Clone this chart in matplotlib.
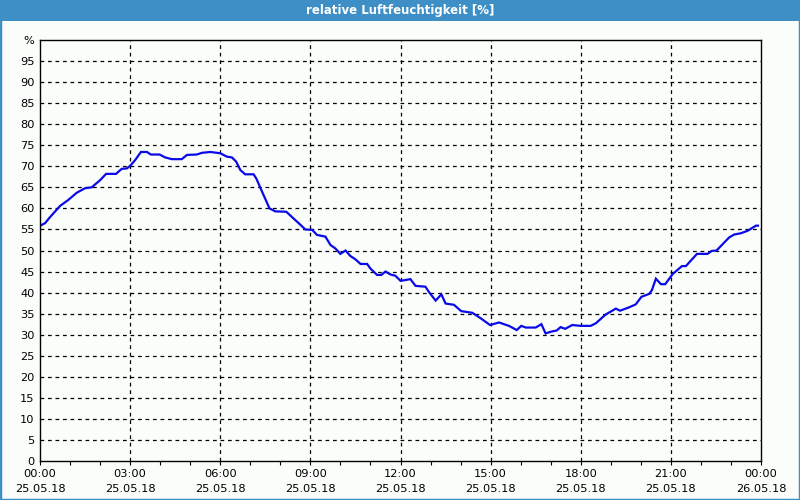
import matplotlib
matplotlib.use("Agg")
import matplotlib.pyplot as plt
from matplotlib.patches import Rectangle

title = "relative Luftfeuchtigkeit [%]"
hours = [0.0, 0.06, 0.17, 0.33, 0.67, 0.94, 1.22, 1.5, 1.72, 2.0, 2.2, 2.53, 2.72, 2.89, 3.0,
         3.17, 3.36, 3.56, 3.69, 3.98, 4.17, 4.39, 4.72, 4.89, 5.22, 5.39, 5.67, 6.0, 6.22,
         6.39, 6.53, 6.67, 6.83, 7.11, 7.2, 7.44, 7.64, 7.83, 8.2, 8.44, 8.67, 8.83, 9.06,
         9.22, 9.5, 9.67, 9.83, 10.0, 10.17, 10.33, 10.5, 10.67, 10.89, 11.0, 11.22, 11.36,
         11.5, 11.67, 11.83, 12.0, 12.17, 12.33, 12.5, 12.83, 12.94, 13.17, 13.36, 13.5,
         13.78, 14.02, 14.39, 14.67, 14.98, 15.28, 15.61, 15.87, 16.02, 16.17, 16.5, 16.69,
         16.83, 17.0, 17.2, 17.33, 17.48, 17.72, 18.0, 18.33, 18.5, 18.83, 19.17, 19.31,
         19.61, 19.83, 20.02, 20.28, 20.37, 20.5, 20.67, 20.81, 21.06, 21.37, 21.5, 21.87,
         22.22, 22.36, 22.52, 22.94, 23.11, 23.33, 23.56, 23.83, 23.9]
humidity = [55.8, 56.1, 56.5, 57.9, 60.6, 62.0, 63.7, 64.8, 65.0, 66.7, 68.2, 68.2, 69.4, 69.5, 70.1,
            71.5, 73.4, 73.4, 72.8, 72.8, 72.1, 71.7, 71.7, 72.7, 72.8, 73.2, 73.4, 73.1, 72.3,
            72.1, 71.1, 69.1, 68.1, 68.1, 67.1, 63.2, 60.0, 59.3, 59.2, 57.6, 56.1, 55.0, 54.9,
            53.7, 53.3, 51.3, 50.5, 49.2, 50.0, 48.7, 47.9, 46.8, 46.8, 45.7, 44.2, 44.2,
            45.0, 44.3, 44.0, 42.8, 43.0, 43.2, 41.6, 41.4, 40.2, 38.1, 39.6, 37.4,
            37.1, 35.6, 35.2, 33.9, 32.3, 32.9, 32.1, 31.1, 32.1, 31.7, 31.7, 32.5,
            30.3, 30.7, 31.0, 31.8, 31.4, 32.3, 32.1, 32.1, 32.7, 34.8, 36.2, 35.7,
            36.5, 37.2, 39.0, 39.7, 40.6, 43.3, 42.0, 42.0, 44.4, 46.3, 46.3, 49.2,
            49.2, 49.9, 50.0, 53.1, 53.8, 54.1, 54.7, 55.9, 55.9]
x_tick_hours = [0, 3, 6, 9, 12, 15, 18, 21, 24]
x_tick_labels = ["00:00\n25.05.18", "03:00\n25.05.18", "06:00\n25.05.18", "09:00\n25.05.18",
                 "12:00\n25.05.18", "15:00\n25.05.18", "18:00\n25.05.18", "21:00\n25.05.18",
                 "00:00\n26.05.18"]
y_ticks = list(range(0, 101, 5))
y_tick_labels = [str(v) for v in range(0, 100, 5)] + ["%"]

plt.rcParams['font.family'] = ['DejaVu Sans']
bg = "#fbfdfb"
blue_bar = "#3d8fc6"

fig = plt.figure(figsize=(8, 5), dpi=100, facecolor=bg)
# window frame and title bar
fig.patches.append(Rectangle((0, 0), 1, 1, transform=fig.transFigure, fill=False,
                             edgecolor=blue_bar, linewidth=2.5))
fig.patches.append(Rectangle((0, 1 - 21 / 500), 1, 21 / 500, transform=fig.transFigure,
                             facecolor=blue_bar, edgecolor="none"))
fig.text(0.5, 1 - 10.5 / 500, title, color="white", ha="center", va="center",
         fontsize=8.5, fontweight="bold")

ax = fig.add_axes([40 / 800, 1 - 461 / 500, 721 / 800, 421 / 500])
ax.set_facecolor(bg)
ax.plot(hours, humidity, color="#0a0ae8", linewidth=1.6, solid_joinstyle="miter")
ax.set_xlim(0, 24)
ax.set_ylim(0, 100)
ax.set_xticks(x_tick_hours)
ax.set_xticklabels(x_tick_labels, fontsize=8.2, linespacing=1.6)
ax.set_xticks(range(0, 25), minor=True)
ax.set_yticks(y_ticks)
ax.set_yticklabels(y_tick_labels, fontsize=8.2)
ax.tick_params(axis="x", which="both", length=3, width=0.8, direction="out", pad=3)
ax.tick_params(axis="y", length=0, pad=4)
for s in ax.spines.values():
    s.set_linewidth(1.0)
    s.set_color("black")
for t in x_tick_hours[1:-1]:
    ax.axvline(t, color="black", linewidth=0.9, linestyle=(0, (3, 3)), zorder=0.5)
for v in y_ticks[1:-1]:
    ax.axhline(v, color="black", linewidth=0.9, linestyle=(0, (3, 3)), zorder=0.5)

fig.savefig("out.png", dpi=100, facecolor=bg)
